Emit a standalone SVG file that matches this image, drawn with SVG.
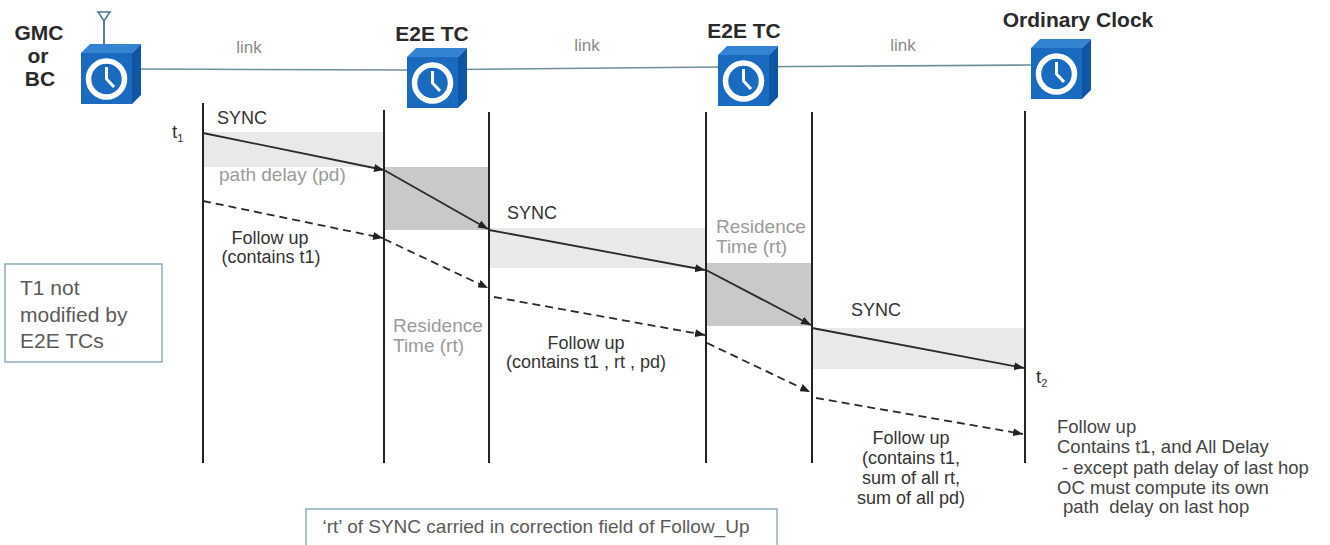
<svg xmlns="http://www.w3.org/2000/svg" xmlns:xlink="http://www.w3.org/1999/xlink" width="1330" height="545" viewBox="0 0 1330 545">
<style>
text{font-family:"Liberation Sans",Arial,sans-serif}
.bold{font-weight:bold;font-size:21px;fill:#2a2a2a}
.link{font-size:17px;fill:#8a8a8a}
.lbl{font-size:18px;fill:#333}
.grey{font-size:19px;fill:#9a9a9a}
.note{font-size:18.5px;fill:#444;white-space:pre}
.box{font-size:21px;fill:#5a5a5a}
.life{stroke:#222;stroke-width:2;fill:none}
.msg{stroke:#2a2a2a;stroke-width:1.8;fill:none;marker-end:url(#ah)}
.fu{stroke:#2a2a2a;stroke-width:1.8;fill:none;stroke-dasharray:8 5;marker-end:url(#ah)}
.light{fill:#e9e9e9}
.dark{fill:#c9c9c9}
.frame{fill:#fff;stroke:#8fadbd;stroke-width:1.5}
</style>
<defs>
<marker id="ah" viewBox="0 0 10 8" refX="10" refY="4" markerWidth="10" markerHeight="8" orient="auto" markerUnits="userSpaceOnUse">
<path d="M0,0 L10,4 L0,8 z" fill="#222"/>
</marker>
<g id="clockcube">
<polygon points="0,0 9,-9 60,-9 51,0" fill="#3584d4"/>
<polygon points="51,0 60,-9 60,42 51,51" fill="#0e56a3"/>
<rect x="0" y="0" width="51" height="51" fill="#1a6bbf"/>
<circle cx="25.5" cy="26" r="18" fill="#1a6bbf" stroke="#fff" stroke-width="5.5"/>
<polyline points="25.5,14 25.5,26 33,34" fill="none" stroke="#fff" stroke-width="3" stroke-linejoin="round"/>
</g>
</defs>
<rect width="1330" height="545" fill="#fff"/>

<g id="link-line">
<polyline points="139,69 407,70 720,67 1031,65" fill="none" stroke="#6f8f9c" stroke-width="1.6"/>
<text class="link" x="249" y="53" text-anchor="middle">link</text>
<text class="link" x="587" y="51" text-anchor="middle">link</text>
<text class="link" x="903" y="51" text-anchor="middle">link</text>
</g>

<g id="node-gmc">
<line x1="104" y1="48" x2="104" y2="21" stroke="#4a7585" stroke-width="1.8"/>
<polygon points="98,12 110,12 104,21" fill="none" stroke="#4a7585" stroke-width="1.5"/>
<use xlink:href="#clockcube" href="#clockcube" transform="translate(81,53)"/>
<text class="bold" x="39" y="40" text-anchor="middle">GMC</text>
<text class="bold" x="38" y="63" text-anchor="middle">or</text>
<text class="bold" x="40" y="86" text-anchor="middle">BC</text>
</g>

<g id="node-tc1">
<use xlink:href="#clockcube" href="#clockcube" transform="translate(407,57)"/>
<text class="bold" x="432" y="41" text-anchor="middle">E2E TC</text>
</g>

<g id="node-tc2">
<use xlink:href="#clockcube" href="#clockcube" transform="translate(718,55)"/>
<text class="bold" x="744" y="38" text-anchor="middle">E2E TC</text>
</g>

<g id="node-oc">
<use xlink:href="#clockcube" href="#clockcube" transform="translate(1031,48)"/>
<text class="bold" x="1078" y="27" text-anchor="middle">Ordinary Clock</text>
</g>

<g id="bands">
<rect class="light" x="203" y="132" width="181" height="35"/>
<rect class="dark" x="384" y="167" width="105" height="63"/>
<rect class="light" x="489" y="228" width="217" height="40"/>
<rect class="dark" x="706" y="263" width="106" height="63"/>
<rect class="light" x="812" y="328" width="213" height="41"/>
</g>

<g id="lifelines">
<line class="life" x1="203" y1="103" x2="203" y2="463"/>
<line class="life" x1="384" y1="110" x2="384" y2="463"/>
<line class="life" x1="489" y1="112" x2="489" y2="463"/>
<line class="life" x1="706" y1="112" x2="706" y2="463"/>
<line class="life" x1="812" y1="112" x2="812" y2="463"/>
<line class="life" x1="1025" y1="111" x2="1025" y2="463"/>
</g>

<g id="connectors">
<line class="msg" x1="203" y1="133" x2="384" y2="170"/>
<line class="msg" x1="384" y1="170" x2="488" y2="229"/>
<line class="msg" x1="489" y1="230" x2="705" y2="270"/>
<line class="msg" x1="706" y1="270" x2="811" y2="325"/>
<line class="msg" x1="812" y1="328" x2="1024" y2="368"/>
<line class="fu" x1="203" y1="201" x2="383" y2="238"/>
<line class="fu" x1="384" y1="239" x2="488" y2="288"/>
<line class="fu" x1="494" y1="297" x2="705" y2="335"/>
<line class="fu" x1="707" y1="343" x2="810" y2="392"/>
<line class="fu" x1="816" y1="398" x2="1023" y2="434"/>
</g>

<g id="labels">
<text class="lbl" x="217" y="124">SYNC</text>
<text class="lbl" x="172" y="138" style="font-size:19px">t<tspan font-size="11" dy="4">1</tspan></text>
<text class="grey" x="219" y="181">path delay (pd)</text>
<text class="lbl" x="270" y="244" text-anchor="middle">Follow up</text>
<text class="lbl" x="271" y="263" text-anchor="middle">(contains t1)</text>
<text class="lbl" x="507" y="219">SYNC</text>
<text class="grey" x="716" y="233">Residence</text>
<text class="grey" x="716" y="253">Time (rt)</text>
<text class="grey" x="393" y="332">Residence</text>
<text class="grey" x="393" y="352">Time (rt)</text>
<text class="lbl" x="586" y="349" text-anchor="middle">Follow up</text>
<text class="lbl" x="586" y="368" text-anchor="middle">(contains t1 , rt , pd)</text>
<text class="lbl" x="851" y="316">SYNC</text>
<text class="lbl" x="1036" y="383" style="font-size:19px">t<tspan font-size="11" dy="4">2</tspan></text>
<text class="lbl" x="911" y="444" text-anchor="middle">Follow up</text>
<text class="lbl" x="911" y="464" text-anchor="middle">(contains t1,</text>
<text class="lbl" x="911" y="484" text-anchor="middle">sum of all rt,</text>
<text class="lbl" x="911" y="504" text-anchor="middle">sum of all pd)</text>
<text class="note" x="1057" y="433">Follow up</text>
<text class="note" x="1057" y="453">Contains t1, and All Delay</text>
<text class="note" x="1062" y="474">- except path delay of last hop</text>
<text class="note" x="1057" y="494">OC must compute its own</text>
<text class="note" x="1063" y="513" xml:space="preserve">path  delay on last hop</text>
</g>

<g id="note-t1">
<rect class="frame" x="5" y="264" width="157" height="98"/>
<text class="box" x="20" y="295">T1 not</text>
<text class="box" x="20" y="322">modified by</text>
<text class="box" x="20" y="348">E2E TCs</text>
</g>

<g id="note-rt">
<rect class="frame" x="306" y="509" width="471" height="45"/>
<text x="536" y="533" text-anchor="middle" style="font-size:19px;fill:#5a5a5a">‘rt’ of SYNC carried in correction field of Follow_Up</text>
</g>
</svg>
